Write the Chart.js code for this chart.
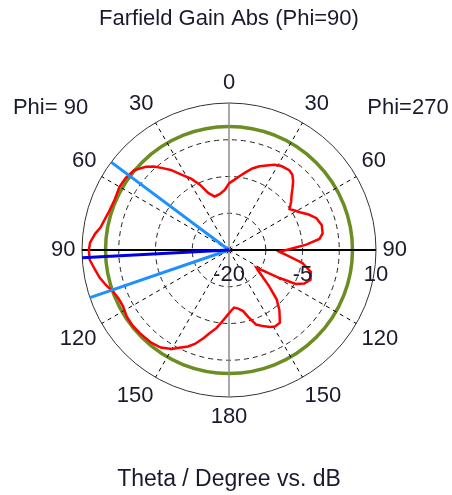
<!DOCTYPE html>
<html>
<head>
<meta charset="utf-8">
<script src="https://cdn.jsdelivr.net/npm/chart.js@4"></script>
<style>
  html, body { margin: 0; padding: 0; background: #ffffff; }
  #wrap { position: relative; width: 452px; height: 495px; }
</style>
</head>
<body>
<div id="wrap"><canvas id="farfield" width="452" height="495"></canvas></div>
<script>
// Farfield gain cut, Phi=270 half-plane (right side), theta in degrees, gain in dB
const thetaPhi270 = [0,4,8,12,16,20,24,28,32,37,40,43,46,49,52,56,58,62,66,70,75,80,83,86,89,92,95,100,105,110,114,117,119,121,123,125,128,132,136,140,145,149,152,156,160,164,167,171,175,178,180];
const gainPhi270  = [-6.4,-5.7,-4.8,-3.8,-2.7,-1.8,-1.1,-0.3,0.2,0.4,0.1,-0.8,-2.0,-3.1,-3.9,-5.1,-4.6,-3.6,-2.2,-1.0,-0.4,-0.6,-1.4,-4.2,-7.5,-9.7,-8.2,-4.8,-2.7,-2.3,-3.2,-4.7,-8.2,-11.5,-13.3,-12.8,-11.5,-9.0,-6.0,-4.0,-1.9,-1.8,-2.2,-3.0,-3.8,-5.8,-7.2,-7.9,-8.2,-7.6,-7.1];

// Phi=90 half-plane (left side)
const thetaPhi90 = [0,4,10,15,20,24,28,32,36,39,42,45,50,55,60,66,72,76,80,83,87,90,94,98,102,106,110,114,118,123,128,133,140,145,150,153,157,160,164,167,171,175,178,180];
const gainPhi90  = [-6.4,-7.7,-8.5,-8.7,-7.6,-5.4,-3.5,-1.9,0.2,1.5,2.9,4.0,5.3,5.7,5.8,5.5,5.7,6.1,6.6,7.5,8.4,8.6,8.5,7.7,7.0,6.1,5.1,4.6,4.5,4.9,5.0,4.9,4.7,4.3,3.3,2.4,1.4,0.4,-1.3,-2.6,-3.9,-5.5,-6.5,-7.1];

// Angular tick labels every 30 degrees, clockwise from the top
const angleTickLabels = ['0','30','60','90','120','150','180','150','120','90','60','30'];
// Radial (dB) scale
const gainMin = -20;
const gainMax = 10;
const gainStep = 7.5;
const radialTickValues = [-20, -5, 10];
const radialTickLabels = ['-20', '-5', '10'];
// Reference level circle (dB)
const referenceLevel = 5.2;
// Main lobe direction and 3 dB beam edges on the Phi=90 side (theta, degrees)
const mainLobeTheta = 93;
const beamEdgeTheta = [53.3, 108.9];
const sideLabels = ['Phi= 90', 'Phi=270'];

const FONT = "'Liberation Sans', Arial, sans-serif";
const TEXT = '#1a1a2e';
const STEPS = 360;

// one radar label per degree, clockwise from the top
const degreeLabels = Array.from({ length: STEPS }, (_, i) => String(i));
const pattern = new Array(STEPS).fill(null);
thetaPhi270.forEach((t, i) => { pattern[t % STEPS] = gainPhi270[i]; });
thetaPhi90.forEach((t, i) => { pattern[(STEPS - t) % STEPS] = gainPhi90[i]; });

const overlay = {
  id: 'overlay',
  afterDatasetsDraw(chart) {
    const s = chart.scales.r;
    const ctx = chart.ctx;
    const R = s.drawingArea;
    const ray = (theta, color, width) => {
      const p = s.getPointPosition(STEPS - theta, R);
      ctx.save();
      ctx.strokeStyle = color;
      ctx.lineWidth = width;
      ctx.beginPath();
      ctx.moveTo(s.xCenter, s.yCenter);
      ctx.lineTo(p.x, p.y);
      ctx.stroke();
      ctx.restore();
    };
    beamEdgeTheta.forEach(t => ray(t, '#1e90ff', 3));
    ray(mainLobeTheta, '#0000e6', 3);
  },
  afterDraw(chart) {
    const s = chart.scales.r;
    const ctx = chart.ctx;
    const R = s.drawingArea;
    ctx.save();
    ctx.font = '22px ' + FONT;
    ctx.fillStyle = TEXT;
    ctx.textAlign = 'center';
    ctx.textBaseline = 'middle';
    const halfH = 11;
    const gap = 9;
    // each label box sits just outside the rim, its nearest corner on the tick direction
    angleTickLabels.forEach((lab, k) => {
      const a = k * 30 * Math.PI / 180;
      const sa = Math.sin(a), ca = Math.cos(a);
      const p = s.getPointPosition(k * 30, R + gap);
      const halfW = ctx.measureText(lab).width / 2 - 2.5;
      const sx = Math.abs(sa) < 1e-6 ? 0 : Math.sign(sa);
      const sy = Math.abs(ca) < 1e-6 ? 0 : -Math.sign(ca);
      ctx.fillText(lab, p.x + sx * halfW, p.y + sy * halfH);
    });
    radialTickValues.forEach((v, i) => {
      const x = s.xCenter + s.getDistanceFromCenterForValue(v);
      ctx.fillText(radialTickLabels[i], x, s.yCenter + 25);
    });
    ctx.fillText(sideLabels[0], s.xCenter - 178.5, s.yCenter - 142);
    ctx.fillText(sideLabels[1], s.xCenter + 179, s.yCenter - 142);
    ctx.restore();
  }
};

new Chart(document.getElementById('farfield'), {
  type: 'radar',
  data: {
    labels: degreeLabels,
    datasets: [{
      data: pattern,
      borderColor: '#ff0000',
      borderWidth: 2.5,
      backgroundColor: 'transparent',
      fill: false,
      pointRadius: 0,
      pointHoverRadius: 0,
      spanGaps: true,
      tension: 0
    }]
  },
  options: {
    responsive: false,
    animation: false,
    devicePixelRatio: 1,
    layout: { padding: { left: 82, right: 76, top: 0, bottom: 0 } },
    plugins: {
      legend: { display: false },
      tooltip: { enabled: false },
      title: {
        display: true,
        text: 'Farfield Gain Abs (Phi=90)',
        color: TEXT,
        font: { family: FONT, size: 22, weight: 'normal', lineHeight: 1.2 },
        padding: { top: 5.3, bottom: 71.3 }
      },
      subtitle: {
        display: true,
        position: 'bottom',
        text: 'Theta / Degree vs. dB',
        color: TEXT,
        font: { family: FONT, size: 23, weight: 'normal', lineHeight: 1.2 },
        padding: { top: 69.2, bottom: 1.2 }
      }
    },
    scales: {
      r: {
        min: gainMin,
        max: gainMax,
        startAngle: 0,
        ticks: { display: false, stepSize: gainStep },
        pointLabels: { display: false },
        afterBuildTicks: (scale) => { scale.ticks.push({ value: referenceLevel }); },
        grid: {
          circular: true,
          color: (c) => {
            const v = c.tick.value;
            if (v === referenceLevel) return '#6b8e23';
            if (v === gainMin) return 'rgba(0,0,0,0)';
            if (v === gainMax) return '#333333';
            return '#222222';
          },
          lineWidth: (c) => c.tick.value === referenceLevel ? 3.5 : 1
        },
        border: {
          dash: (c) => {
            const v = c.tick.value;
            return (v === referenceLevel || v === gainMax) ? [] : [5, 4];
          }
        },
        angleLines: {
          display: true,
          color: (c) => {
            const i = c.index;
            if (i % 180 === 0) return '#8c8c8c';
            return '#000000';
          },
          lineWidth: (c) => {
            const i = c.index;
            if (i % 180 === 0) return 1.5;
            if (i % 180 === 90) return 2;
            if (i % 30 === 0) return 1;
            return 0;
          },
          borderDash: (c) => (c.index % 90 === 0) ? [] : [4, 4]
        }
      }
    }
  },
  plugins: [overlay]
});
</script>
</body>
</html>
